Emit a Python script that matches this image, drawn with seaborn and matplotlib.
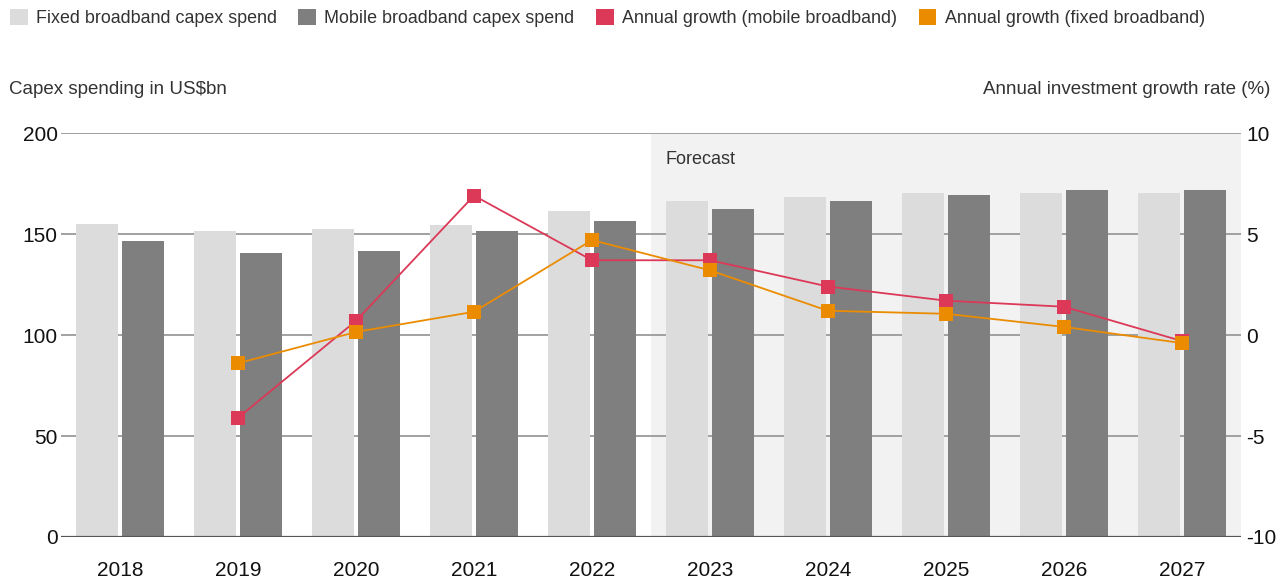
import matplotlib
matplotlib.use("Agg")
import matplotlib.pyplot as plt
from matplotlib.patches import Patch
import seaborn as sns
import pandas as pd
import numpy as np

years = ["2018", "2019", "2020", "2021", "2022", "2023", "2024", "2025", "2026", "2027"]
fixed_capex = [155, 151.5, 152.5, 154.5, 161.5, 166.5, 168.5, 170.5, 170.5, 170.5]
mobile_capex = [146.5, 140.5, 141.5, 151.5, 156.5, 162.5, 166.5, 169.5, 172, 172]
growth_years = ["2019", "2020", "2021", "2022", "2023", "2024", "2025", "2026", "2027"]
mobile_growth = [-4.1, 0.7, 6.9, 3.7, 3.7, 2.4, 1.7, 1.4, -0.3]
fixed_growth = [-1.4, 0.15, 1.15, 4.7, 3.2, 1.2, 1.05, 0.4, -0.4]
forecast_start = "2023"

series_names = ["Fixed broadband capex spend", "Mobile broadband capex spend",
                "Annual growth (mobile broadband)", "Annual growth (fixed broadband)"]
colors = ["#dcdcdc", "#7f7f7f", "#dc3857", "#eb8c00"]

sns.set_theme(style="white")
plt.rcParams["font.family"] = ["Liberation Sans", "DejaVu Sans"]
plt.rcParams["axes.unicode_minus"] = False

df = pd.DataFrame({
    "year": years * 2,
    "value": fixed_capex + mobile_capex,
    "series": [series_names[0]] * len(years) + [series_names[1]] * len(years),
})

fig = plt.figure(figsize=(12.87, 5.81), dpi=100)
L, R, T, B = 61, 1241, 133, 537
ax = fig.add_axes([L / 1287, 1 - B / 581, (R - L) / 1287, (B - T) / 581])

# forecast shading
fs = years.index(forecast_start) - 0.5
ax.axvspan(fs, len(years) - 0.5, color="#f2f2f2", zorder=0, lw=0)

sns.barplot(data=df, x="year", y="value", hue="series", order=years,
            hue_order=series_names[:2], palette=colors[:2], width=0.77, gap=0.08,
            saturation=1, legend=False, ax=ax, zorder=2, linewidth=0, edgecolor="none")

ax.set_xlim(-0.5, len(years) - 0.5)
ax.set_ylim(0, 200)
ax.set_yticks([0, 50, 100, 150, 200])
ax.set_axisbelow(True)
ax.yaxis.grid(True, color="#9a9a9a", lw=1.3, zorder=1)
ax.axhline(0, color="#555555", lw=1.6, zorder=3)
for s in ax.spines.values():
    s.set_visible(False)
ax.set_xlabel("")
ax.set_ylabel("")
ax.tick_params(axis="y", left=False, length=0, labelsize=15, labelcolor="#111111", pad=2.5)
ax.tick_params(axis="x", bottom=False, labelsize=15, labelcolor="#111111", pad=11)

ax.text(fs + 0.12, 187, "Forecast", fontsize=13, color="#333333", va="center", ha="left")

ax2 = ax.twinx()
gpos = [years.index(y) for y in growth_years]
sns.lineplot(x=gpos, y=mobile_growth, color=colors[2], marker="s", markersize=10,
             markeredgewidth=0, lw=1.3, ax=ax2, zorder=5)
sns.lineplot(x=gpos, y=fixed_growth, color=colors[3], marker="s", markersize=10,
             markeredgewidth=0, lw=1.3, ax=ax2, zorder=6)
ax2.set_ylim(-10, 10)
ax2.set_yticks([-10, -5, 0, 5, 10])
ax2.set_xlim(-0.5, len(years) - 0.5)
for s in ax2.spines.values():
    s.set_visible(False)
ax2.tick_params(axis="y", right=False, length=0, labelsize=15, labelcolor="#111111", pad=4)
ax2.grid(False)

fig.text(9 / 1287, 1 - 89 / 581, "Capex spending in US$bn", fontsize=13.5,
         color="#333333", ha="left", va="center")
fig.text(1270 / 1287, 1 - 89 / 581, "Annual investment growth rate (%)", fontsize=13.5,
         color="#333333", ha="right", va="center")

handles = [Patch(facecolor=c, edgecolor="none") for c in colors]
fig.legend(handles, series_names, loc="upper left", bbox_to_anchor=(10 / 1287, 1 - 9 / 581),
           ncol=4, frameon=False, fontsize=12.9, handlelength=1.0, handleheight=1.0,
           handletextpad=0.45, columnspacing=1.2, labelcolor="#333333",
           borderaxespad=0, borderpad=0)

fig.savefig("out.png", dpi=100)
